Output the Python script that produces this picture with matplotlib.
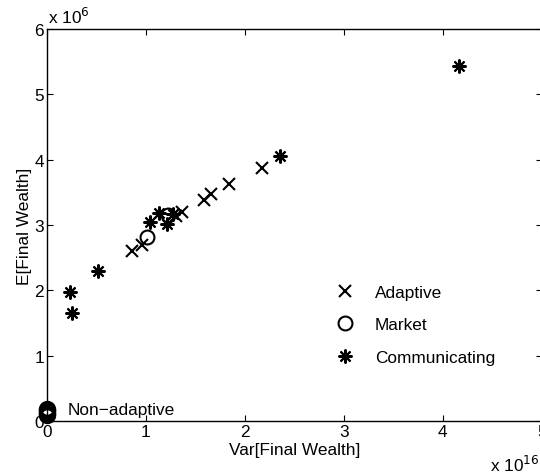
import matplotlib
matplotlib.use('Agg')
from matplotlib import pyplot as plt

plt.rcParams['font.family'] = ['Liberation Sans', 'DejaVu Sans']

# values in units of 1e16 (x) and 1e6 (y)
adaptive_x = [0.86, 0.96, 1.30, 1.36, 1.59, 1.66, 1.84, 2.17]
adaptive_y = [2.60, 2.70, 3.14, 3.20, 3.38, 3.47, 3.63, 3.88]
market_x = [1.01, 1.22]
market_y = [2.81, 3.15]
comm_x = [0.23, 0.25, 0.52, 1.04, 1.13, 1.21, 1.27, 2.36, 4.16]
comm_y = [1.98, 1.65, 2.30, 3.04, 3.19, 3.02, 3.17, 4.05, 5.43]
nonadapt_x = [0.0, 0.003, 0.0, 0.004, 0.0, 0.002]
nonadapt_y = [0.09, 0.11, 0.13, 0.15, 0.17, 0.19]

fs = 12.4
fig = plt.figure(figsize=(5.4, 4.77), dpi=100)
ax = fig.add_axes([47 / 540, 55 / 477, 494.6 / 540, 392 / 477])

ast = (8, 2, 0)
ax.plot(adaptive_x, adaptive_y, 'x', color='black', ms=8, mew=1.5, label='Adaptive')
ax.plot(market_x, market_y, 'o', color='black', mfc='none', ms=10, mew=1.5, label='Market')
ax.plot(comm_x, comm_y, marker=ast, ls='none', color='black', ms=10, mew=1.5, label='Communicating')
ax.plot(nonadapt_x, nonadapt_y, 'o', color='black', mfc='none', ms=10, mew=2.5, clip_on=False)
ax.text(0.21, 0.18, 'Non\u2212adaptive', fontsize=fs, va='center', ha='left')

ax.set_xlim(0, 5)
ax.set_ylim(0, 6)
ax.set_xticks([0, 1, 2, 3, 4, 5])
ax.set_yticks([0, 1, 2, 3, 4, 5, 6])
ax.tick_params(direction='in', top=True, right=True, labelsize=fs, length=4, pad=2)
ax.set_xlabel('Var[Final Wealth]', fontsize=fs, labelpad=2)
ax.set_ylabel('E[Final Wealth]', fontsize=fs, labelpad=2)
for s in ax.spines.values():
    s.set_linewidth(1)

fig.text(48 / 540, 1 - 24 / 477, r'x 10$^{6}$', fontsize=fs, ha='left', va='baseline')
fig.text(490 / 540, 1 - 472 / 477, r'x 10$^{16}$', fontsize=fs, ha='left', va='baseline')

ax.legend(loc='center left', bbox_to_anchor=(0.551, 0.245), frameon=False, fontsize=fs,
          handletextpad=1.1, labelspacing=1.0, handlelength=1.2)

fig.savefig('out.png', dpi=100)
